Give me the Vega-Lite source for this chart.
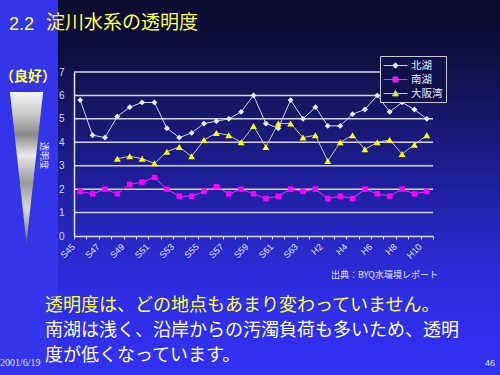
{
  "$schema": "https://vega.github.io/schema/vega-lite/v6.json",
  "width": 359,
  "height": 164,
  "autosize": {"type": "none"},
  "padding": {"left": 74, "top": 72, "right": 67, "bottom": 139},
  "background": "#14145a",
  "datasets": {
    "obs": [
      {"yr": 1970, "北湖": 5.8, "南湖": 1.9, "大阪湾": null},
      {"yr": 1971, "北湖": 4.3, "南湖": 1.8, "大阪湾": null},
      {"yr": 1972, "北湖": 4.2, "南湖": 2.0, "大阪湾": null},
      {"yr": 1973, "北湖": 5.1, "南湖": 1.8, "大阪湾": 3.3},
      {"yr": 1974, "北湖": 5.5, "南湖": 2.2, "大阪湾": 3.4},
      {"yr": 1975, "北湖": 5.7, "南湖": 2.3, "大阪湾": 3.3},
      {"yr": 1976, "北湖": 5.7, "南湖": 2.5, "大阪湾": 3.1},
      {"yr": 1977, "北湖": 4.6, "南湖": 2.0, "大阪湾": 3.6},
      {"yr": 1978, "北湖": 4.2, "南湖": 1.7, "大阪湾": 3.8},
      {"yr": 1979, "北湖": 4.4, "南湖": 1.7, "大阪湾": 3.4},
      {"yr": 1980, "北湖": 4.8, "南湖": 1.9, "大阪湾": 4.1},
      {"yr": 1981, "北湖": 4.9, "南湖": 2.1, "大阪湾": 4.4},
      {"yr": 1982, "北湖": 5.0, "南湖": 1.8, "大阪湾": 4.3},
      {"yr": 1983, "北湖": 5.3, "南湖": 2.0, "大阪湾": 4.0},
      {"yr": 1984, "北湖": 6.0, "南湖": 1.8, "大阪湾": 4.7},
      {"yr": 1985, "北湖": 4.8, "南湖": 1.6, "大阪湾": 3.8},
      {"yr": 1986, "北湖": 4.6, "南湖": 1.7, "大阪湾": 4.8},
      {"yr": 1987, "北湖": 5.8, "南湖": 2.0, "大阪湾": 4.8},
      {"yr": 1988, "北湖": 5.0, "南湖": 1.9, "大阪湾": 4.2},
      {"yr": 1989, "北湖": 5.5, "南湖": 2.0, "大阪湾": 4.3},
      {"yr": 1990, "北湖": 4.7, "南湖": 1.6, "大阪湾": 3.2},
      {"yr": 1991, "北湖": 4.7, "南湖": 1.7, "大阪湾": 4.0},
      {"yr": 1992, "北湖": 5.2, "南湖": 1.6, "大阪湾": 4.3},
      {"yr": 1993, "北湖": 5.4, "南湖": 2.0, "大阪湾": 3.7},
      {"yr": 1994, "北湖": 6.0, "南湖": 1.8, "大阪湾": 4.0},
      {"yr": 1995, "北湖": 5.3, "南湖": 1.7, "大阪湾": 4.1},
      {"yr": 1996, "北湖": 5.7, "南湖": 2.0, "大阪湾": 3.5},
      {"yr": 1997, "北湖": 5.4, "南湖": 1.8, "大阪湾": 3.9},
      {"yr": 1998, "北湖": 5.0, "南湖": 1.9, "大阪湾": 4.3}
    ],
    "grid": [{"g": 1}, {"g": 2}, {"g": 3}, {"g": 4}, {"g": 5}, {"g": 6}, {"g": 7}],
    "one": [{"k": 0}]
  },
  "config": {
    "view": {"stroke": null},
    "font": "Noto Sans CJK JP",
    "axisX": {
      "title": null,
      "grid": false,
      "labelAngle": -45,
      "labelFont": "Liberation Sans",
      "labelFontSize": 9,
      "labelColor": "#e4e4ff",
      "labelPadding": 3,
      "labelOffset": -10,
      "labelOverlap": false,
      "tickBand": "extent",
      "tickSize": 3,
      "tickColor": "#e0e0f0",
      "domainColor": "#e0e0f0",
      "domainWidth": 1.5
    },
    "axisY": {
      "grid": false,
      "ticks": false,
      "labelPadding": 10,
      "labelFont": "Liberation Sans",
      "labelFontSize": 10,
      "labelColor": "#d8d8f0",
      "domainColor": "#e0e0f0",
      "domainWidth": 1.5,
      "values": [0, 1, 2, 3, 4, 5, 6, 7],
      "titleX": -31,
      "titleY": 83,
      "titleAngle": 90,
      "titleAlign": "center",
      "titleBaseline": "middle",
      "titleFont": "Noto Sans CJK JP",
      "titleFontSize": 9,
      "titleFontWeight": "normal",
      "titleColor": "#e8e8f8"
    },
    "legend": {
      "zindex": 1,
      "title": null,
      "orient": "none",
      "legendX": 306,
      "legendY": -16,
      "fillColor": "#10104a",
      "strokeColor": "#c8c8d8",
      "padding": 3,
      "labelFont": "Noto Sans CJK JP",
      "labelFontSize": 10.5,
      "labelColor": "#e8e8f8",
      "symbolOffset": 6,
      "labelOffset": 9,
      "rowPadding": 2,
      "symbolSize": 144,
      "symbolStrokeWidth": 1
    }
  },
  "layer": [
    {
      "data": {"name": "one"},
      "mark": {
        "type": "rect",
        "fill": {
          "gradient": "linear", "x1": 0, "y1": 0, "x2": 0, "y2": 1,
          "stops": [
            {"offset": 0, "color": "#0b0b30"},
            {"offset": 0.14, "color": "#0e0e40"},
            {"offset": 0.26, "color": "#15155e"},
            {"offset": 0.45, "color": "#1d1d92"},
            {"offset": 0.65, "color": "#2828c8"},
            {"offset": 0.8, "color": "#2e2ee6"},
            {"offset": 1, "color": "#3232f2"}
          ]
        }
      },
      "encoding": {
        "x": {"value": -74}, "x2": {"value": 426},
        "y": {"value": -72}, "y2": {"value": 303}
      }
    },
    {
      "data": {"name": "one"},
      "mark": {"type": "rect", "fill": "#3434ea"},
      "encoding": {
        "x": {"value": -74}, "x2": {"value": -16},
        "y": {"value": -72}, "y2": {"value": 303}
      }
    },
    {
      "data": {"name": "one"},
      "mark": {
        "type": "point",
        "shape": "M-0.22,-1L0.22,-1L0,1Z",
        "size": 22801,
        "filled": true,
        "opacity": 1,
        "strokeWidth": 0,
        "fill": {
          "gradient": "linear", "x1": 0, "y1": 0, "x2": 0, "y2": 1,
          "stops": [
            {"offset": 0, "color": "#f6f6f6"},
            {"offset": 0.15, "color": "#c8c8c8"},
            {"offset": 0.28, "color": "#8a8a8a"},
            {"offset": 0.42, "color": "#e8e8e8"},
            {"offset": 0.6, "color": "#9a9a9a"},
            {"offset": 0.78, "color": "#d8d8d8"},
            {"offset": 1, "color": "#707070"}
          ]
        }
      },
      "encoding": {"x": {"value": -47.5}, "y": {"value": 95.5}}
    },
    {
      "data": {"name": "grid"},
      "mark": {"type": "rule", "color": "#d4d4ee", "strokeWidth": 1.5},
      "encoding": {
        "y": {"field": "g", "type": "quantitative", "scale": {"domain": [0, 7], "nice": false}, "title": "透明度", "axis": {"zindex": 1}}
      }
    },
    {
      "data": {"name": "obs"},
      "transform": [{"fold": ["北湖", "南湖", "大阪湾"], "as": ["series", "v"]}],
      "mark": {"type": "line", "strokeWidth": 1},
      "encoding": {
        "x": {
          "field": "yr", "type": "ordinal", "bandPosition": 0.5,
          "scale": {"type": "band", "paddingInner": 0, "paddingOuter": 0},
          "axis": {"zindex": 1, "labelExpr": "isNumber(datum.value) && (datum.value - 1970) % 2 == 0 ? (datum.value < 1989 ? 'S' + (datum.value - 1925) : 'H' + (datum.value - 1988)) : ''"}
        },
        "y": {"field": "v", "type": "quantitative", "scale": {"domain": [0, 7], "nice": false}, "title": "透明度", "axis": {"zindex": 1}},
        "stroke": {
          "field": "series", "type": "nominal",
          "scale": {"domain": ["北湖", "南湖", "大阪湾"], "range": ["#d0d4ec", "#ff22ff", "#cfc89a"]},
          "legend": {
            "encode": {
              "symbols": {
                "update": {
                  "shape": {"signal": "datum.value === '北湖' ? 'M-2,0L2,0M0,-0.45L0.45,0L0,0.45L-0.45,0Z' : (datum.value === '南湖' ? 'M-2,0L2,0M-0.4,-0.4L0.4,-0.4L0.4,0.4L-0.4,0.4Z' : 'M-2,0L2,0M0,-0.5L0.5,0.4L-0.5,0.4Z')"},
                  "stroke": {"scale": "stroke", "field": "value"},
                  "fill": {"scale": "color", "field": "value"},
                  "strokeWidth": {"value": 1},
                  "size": {"value": 144},
                  "opacity": {"value": 1}
                }
              }
            }
          }
        }
      }
    },
    {
      "data": {"name": "obs"},
      "transform": [{"fold": ["北湖"], "as": ["series", "v"]}],
      "mark": {"type": "point", "shape": "diamond", "size": 34, "filled": true, "opacity": 1, "strokeWidth": 0},
      "encoding": {
        "x": {"field": "yr", "type": "ordinal", "bandPosition": 0.5},
        "y": {"field": "v", "type": "quantitative", "title": "透明度"},
        "color": {
          "field": "series", "type": "nominal",
          "scale": {"domain": ["北湖", "南湖", "大阪湾"], "range": ["#e4f2ff", "#ff00ff", "#ffff00"]},
          "legend": {
            "encode": {
              "symbols": {
                "update": {
                  "shape": {"signal": "datum.value === '北湖' ? 'M-2,0L2,0M0,-0.45L0.45,0L0,0.45L-0.45,0Z' : (datum.value === '南湖' ? 'M-2,0L2,0M-0.4,-0.4L0.4,-0.4L0.4,0.4L-0.4,0.4Z' : 'M-2,0L2,0M0,-0.5L0.5,0.4L-0.5,0.4Z')"},
                  "stroke": {"scale": "stroke", "field": "value"},
                  "fill": {"scale": "color", "field": "value"},
                  "strokeWidth": {"value": 1},
                  "size": {"value": 144},
                  "opacity": {"value": 1}
                }
              }
            }
          }
        }
      }
    },
    {
      "data": {"name": "obs"},
      "transform": [{"fold": ["南湖"], "as": ["series", "v"]}],
      "mark": {"type": "point", "shape": "square", "size": 30, "filled": true, "opacity": 1, "strokeWidth": 0},
      "encoding": {
        "x": {"field": "yr", "type": "ordinal", "bandPosition": 0.5},
        "y": {"field": "v", "type": "quantitative", "title": "透明度"},
        "color": {"field": "series", "type": "nominal"}
      }
    },
    {
      "data": {"name": "obs"},
      "transform": [{"fold": ["大阪湾"], "as": ["series", "v"]}, {"filter": "datum.v != null"}],
      "mark": {"type": "point", "shape": "triangle-up", "size": 48, "filled": true, "opacity": 1, "strokeWidth": 0},
      "encoding": {
        "x": {"field": "yr", "type": "ordinal", "bandPosition": 0.5},
        "y": {"field": "v", "type": "quantitative", "title": "透明度"},
        "color": {"field": "series", "type": "nominal"}
      }
    },
    {
      "data": {"name": "one"},
      "mark": {"type": "text", "text": "2.2", "x": -65, "y": -42, "align": "left", "baseline": "alphabetic", "font": "Liberation Sans", "fontSize": 18, "color": "#ffff4d"}
    },
    {
      "data": {"name": "one"},
      "mark": {"type": "text", "text": "淀川水系の透明度", "x": -28, "y": -43, "align": "left", "baseline": "alphabetic", "font": "Noto Sans CJK JP", "fontSize": 19, "color": "#ffff4d"}
    },
    {
      "data": {"name": "one"},
      "mark": {"type": "text", "text": "（良好）", "x": -46, "y": 9, "align": "center", "baseline": "alphabetic", "font": "Noto Sans CJK JP", "fontSize": 14, "fontWeight": "bold", "color": "#ffff4d"}
    },
    {
      "data": {"name": "one"},
      "mark": {"type": "text", "text": "出典：BYQ水環境レポート", "x": 364, "y": 206, "align": "right", "baseline": "alphabetic", "font": "Noto Sans CJK JP", "fontSize": 9, "color": "#e4e4ff"}
    },
    {
      "data": {"name": "one"},
      "mark": {"type": "text", "text": "透明度は、どの地点もあまり変わっていません。", "x": -29, "y": 239, "align": "left", "baseline": "alphabetic", "font": "Noto Sans CJK JP", "fontSize": 18, "color": "#ffff40"}
    },
    {
      "data": {"name": "one"},
      "mark": {"type": "text", "text": "南湖は浅く、沿岸からの汚濁負荷も多いため、透明", "x": -29, "y": 264, "align": "left", "baseline": "alphabetic", "font": "Noto Sans CJK JP", "fontSize": 18, "color": "#ffffff"}
    },
    {
      "data": {"name": "one"},
      "mark": {"type": "text", "text": "度が低くなっています。", "x": -29, "y": 289, "align": "left", "baseline": "alphabetic", "font": "Noto Sans CJK JP", "fontSize": 18, "color": "#ffffff"}
    },
    {
      "data": {"name": "one"},
      "mark": {"type": "text", "text": "2001/6/19", "x": -74, "y": 294, "align": "left", "baseline": "alphabetic", "font": "Liberation Serif", "fontSize": 10, "color": "#e0e0ff"}
    },
    {
      "data": {"name": "one"},
      "mark": {"type": "text", "text": "46", "x": 421, "y": 294, "align": "right", "baseline": "alphabetic", "font": "Liberation Sans", "fontSize": 9, "color": "#e0e0ff"}
    }
  ]
}
